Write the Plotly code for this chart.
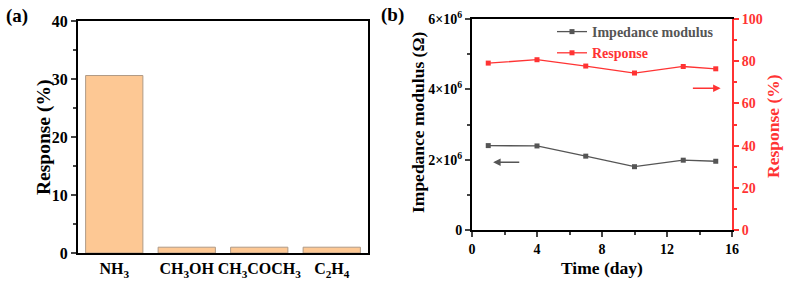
import plotly.graph_objects as go

# ---- data ----
gases = ["NH<sub>3</sub>", "CH<sub>3</sub>OH", "CH<sub>3</sub>COCH<sub>3</sub>", "C<sub>2</sub>H<sub>4</sub>"]
gas_response = [30.6, 1.0, 1.0, 1.0]

days = [1, 4, 7, 10, 13, 15]
impedance = [2.40e6, 2.39e6, 2.10e6, 1.80e6, 1.985e6, 1.955e6]
response_days = [79.1, 80.7, 77.7, 74.4, 77.5, 76.4]

imp_ticks = [0, 2e6, 4e6, 6e6]
imp_ticktext = ["0", "2×10<sup>6</sup>", "4×10<sup>6</sup>", "6×10<sup>6</sup>"]

W, H = 789, 284
FONT = "Liberation Serif"
GRAY = "#555555"
RED = "#ff3333"

def px(x):
    return x / W

def py(y):
    return 1 - y / H

fig = go.Figure()

fig.add_trace(go.Bar(
    x=gases, y=gas_response, xaxis="x", yaxis="y",
    marker=dict(color="#fdc894", line=dict(color="#b09a86", width=1)),
    width=0.79, showlegend=False,
))

fig.add_trace(go.Scatter(
    x=days, y=impedance, xaxis="x2", yaxis="y2", mode="lines+markers",
    name="<span style='color:%s'>Impedance modulus</span>" % GRAY,
    line=dict(color=GRAY, width=1.3), marker=dict(symbol="square", size=5, color=GRAY),
))
fig.add_trace(go.Scatter(
    x=days, y=response_days, xaxis="x2", yaxis="y3", mode="lines+markers",
    name="<span style='color:%s'>Response</span>" % RED,
    line=dict(color=RED, width=1.3), marker=dict(symbol="square", size=5, color=RED),
))

axis_common = dict(showgrid=False, zeroline=False, showline=True, linecolor="black",
                   linewidth=2, automargin=False)

fig.update_layout(
    width=W, height=H, margin=dict(l=0, r=0, t=0, b=0),
    paper_bgcolor="white", plot_bgcolor="white",
    font=dict(family=FONT, color="black", weight="bold"),
    xaxis=dict(domain=[px(78), px(368)], anchor="y", type="category", range=[-0.5, 3.5],
               mirror=True, ticks="", tickfont=dict(size=16, family=FONT, weight="bold"),
               **axis_common),
    yaxis=dict(domain=[py(253), py(21)], anchor="x", range=[0, 40], dtick=10,
               mirror=True, ticks="outside", ticklen=5, tickwidth=1.5,
               tickfont=dict(size=16, family=FONT, weight="bold"),
               minor=dict(dtick=5, ticks="outside", ticklen=3, tickwidth=1.5),
               **axis_common),
    xaxis2=dict(domain=[px(472), px(732)], anchor="y2", range=[0, 16], dtick=4,
                mirror=True, ticks="outside", ticklen=5, tickwidth=1.5,
                tickfont=dict(size=14, family=FONT, weight="bold"),
                minor=dict(dtick=2, ticks="outside", ticklen=3, tickwidth=1.5),
                **axis_common),
    yaxis2=dict(domain=[py(230), py(19)], anchor="x2", range=[0, 6e6],
                tickmode="array", tickvals=imp_ticks, ticktext=imp_ticktext,
                ticks="outside", ticklen=5, tickwidth=1.5,
                tickfont=dict(size=14, family=FONT, weight="bold"),
                minor=dict(tickmode="array", tickvals=[1e6, 3e6, 5e6], ticks="outside",
                           ticklen=3, tickwidth=1.5),
                **axis_common),
    yaxis3=dict(overlaying="y2", anchor="x2", side="right", range=[0, 100], dtick=20,
                showgrid=False, zeroline=False, showline=True, linecolor=RED, linewidth=2,
                automargin=False, ticks="outside", ticklen=5, tickwidth=1.5, tickcolor=RED,
                tickfont=dict(size=14, family=FONT, weight="bold", color=RED),
                minor=dict(dtick=10, ticks="outside", ticklen=3, tickwidth=1.5, tickcolor=RED)),
    legend=dict(x=px(552), y=py(16), xanchor="left", yanchor="top",
                bgcolor="rgba(0,0,0,0)", itemwidth=30, tracegroupgap=0,
                font=dict(size=14, family=FONT, weight="bold")),
)

ann = []
def title(text, x, y, size, angle=0, color="black"):
    ann.append(dict(text=text, x=px(x), y=py(y), xref="paper", yref="paper",
                    showarrow=False, textangle=angle, xanchor="center", yanchor="middle",
                    font=dict(size=size, family=FONT, weight="bold", color=color)))

title("Response (%)", 44, 138, 19.5, -90)
title("Impedance modulus (Ω)", 418, 123, 17.5, -90)
title("Response (%)", 773, 126, 17.5, -90, RED)
title("Time (day)", 602, 268, 17.5)
title("(a)", 17, 16, 19)
title("(b)", 392, 15, 19)

# arrows pointing to the relevant axes
ann.append(dict(x=1.3, y=1.93e6, ax=3.0, ay=1.93e6, xref="x2", yref="y2", axref="x2", ayref="y2",
                showarrow=True, arrowhead=2, arrowsize=1, arrowwidth=1.5, arrowcolor=GRAY, text=""))
ann.append(dict(x=15.3, y=67.2, ax=13.5, ay=67.2, xref="x2", yref="y3", axref="x2", ayref="y3",
                showarrow=True, arrowhead=2, arrowsize=1, arrowwidth=1.5, arrowcolor=RED, text=""))

fig.update_layout(annotations=ann)
fig.write_html("out.html", config={"displayModeBar": False},
               post_script="document.body.style.margin='0';")
